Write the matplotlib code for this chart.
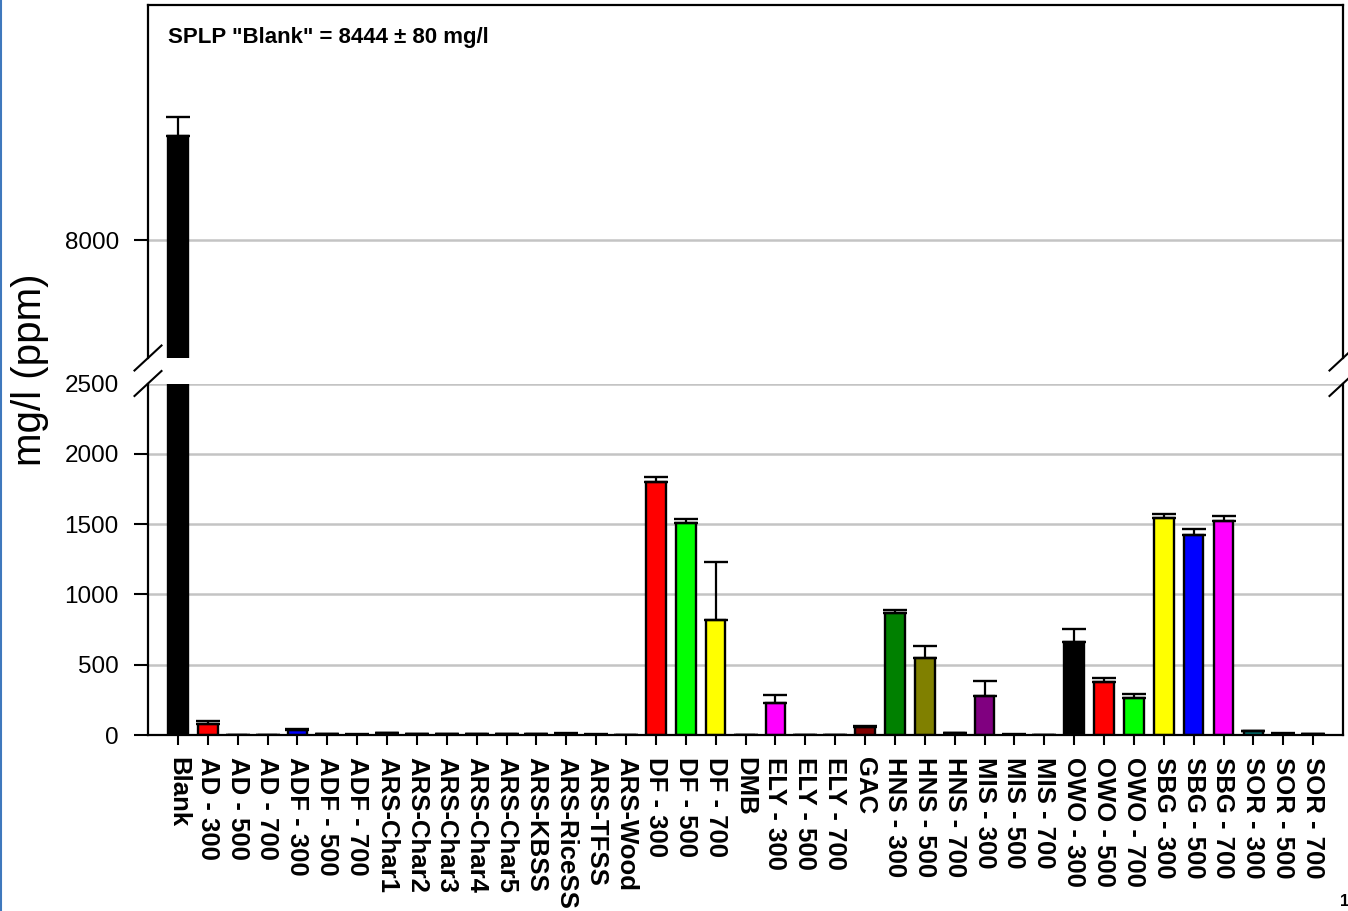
import numpy as np
import matplotlib
matplotlib.use("Agg")
import matplotlib.pyplot as plt
from matplotlib.lines import Line2D

plt.rcParams['font.family'] = ['Liberation Sans', 'DejaVu Sans']

samples = ["Blank", "AD - 300", "AD - 500", "AD - 700", "ADF - 300", "ADF - 500",
           "ADF - 700", "ARS-Char1", "ARS-Char2", "ARS-Char3", "ARS-Char4",
           "ARS-Char5", "ARS-KBSS", "ARS-RiceSS", "ARS-TFSS", "ARS-Wood",
           "DF - 300", "DF - 500", "DF - 700", "DMB", "ELY - 300", "ELY - 500",
           "ELY - 700", "GAC", "HNS - 300", "HNS - 500", "HNS - 700", "MIS - 300",
           "MIS - 500", "MIS - 700", "OWO - 300", "OWO - 500", "OWO - 700",
           "SBG - 300", "SBG - 500", "SBG - 700", "SOR - 300", "SOR - 500", "SOR - 700"]

conc_mean = [8444, 75, 2, 2, 35, 4, 3, 12, 8, 6, 8, 6, 4, 10, 3, 2,
             1800, 1505, 815, 1, 228, 2, 2, 55, 865, 545, 13, 275, 3, 1,
             665, 375, 264, 1545, 1425, 1523, 25, 10, 8]

conc_err = [80, 23, 1, 1, 6, 1, 1, 3, 2, 2, 2, 2, 1, 3, 1, 1,
            37, 30, 412, 1, 55, 1, 1, 8, 25, 85, 2, 112, 1, 1,
            90, 33, 29, 28, 40, 35, 7, 2, 2]

# incrementing colour scheme, repeated every 15 bars
palette = ['#000000', '#ff0000', '#00ff00', '#ffff00', '#0000ff', '#ff00ff',
           '#008080', '#808080', '#800000', '#008000', '#808000', '#000080',
           '#800080', '#008080', '#c0c0c0']
bar_colors = [palette[i % len(palette)] for i in range(len(samples))]

W, H = 1348, 911
fig = plt.figure(figsize=(W / 100, H / 100), dpi=100)


def box(x0, y0, x1, y1):
    return [x0 / W, 1 - y1 / H, (x1 - x0) / W, (y1 - y0) / H]


ax_top = fig.add_axes(box(148, 5, 1343, 358))
ax_bot = fig.add_axes(box(148, 383.5, 1343, 735))

x = np.arange(len(samples))
means = np.array(conc_mean, dtype=float)
errs = np.array(conc_err, dtype=float)

for ax in (ax_top, ax_bot):
    ax.set_axisbelow(True)
    ax.bar(x, means, width=0.66, color=bar_colors, edgecolor='black',
           linewidth=1.7, zorder=2)
    ax.errorbar(x, means, yerr=[np.zeros_like(errs), errs], fmt='none',
                ecolor='black', elinewidth=1.6, capsize=8.5, capthick=1.7,
                zorder=3)
    ax.set_xlim(-1, 39)
    ax.grid(axis='y', color='#c4c4c4', linewidth=1.8)
    for s in ax.spines.values():
        s.set_linewidth(1.6)
    ax.tick_params(axis='y', direction='out', length=10, width=1.5, pad=11,
                   labelsize=17.5)

# upper panel (broken axis)
ax_top.set_ylim(7500, 9000)
ax_top.set_yticks([8000])
ax_top.spines['bottom'].set_visible(False)
ax_top.tick_params(axis='x', bottom=False, labelbottom=False)

# lower panel
ax_bot.set_ylim(0, 2500)
ax_bot.set_yticks([0, 500, 1000, 1500, 2000, 2500])
ax_bot.yaxis.get_major_ticks()[-1].tick1line.set_visible(False)
ax_bot.spines['top'].set_visible(False)
ax_bot.set_xticks(x)
ax_bot.set_xticklabels(samples, rotation=270, fontweight='bold', fontsize=18.5,
                       ha='center', va='top')
ax_bot.tick_params(axis='x', direction='out', length=7.5, width=1.5, pad=8)

# break marks on both vertical spines
for px in (148, 1343):
    for py in (358, 383.5):
        fig.add_artist(Line2D([(px - 13.5) / W, (px + 13.5) / W],
                              [1 - (py + 12.5) / H, 1 - (py - 12.5) / H],
                              color='black', linewidth=1.5,
                              transform=fig.transFigure))

fig.text(30 / W, 1 - 370 / H, "mg/l (ppm)", rotation=90, fontsize=29,
         ha='center', va='center')
fig.text(168 / W, 1 - 43 / H, 'SPLP "Blank" = 8444 \u00b1 80 mg/l',
         fontsize=16, fontweight='bold', ha='left', va='baseline')
fig.text(1340 / W, 1 - 902 / H, "1", fontsize=12, fontweight='bold',
         ha='left', va='center')

# page edge rule on the left
fig.add_artist(Line2D([1 / W, 1 / W], [0, 1], color='#3f78bd', linewidth=1.5,
                      transform=fig.transFigure))

fig.savefig("out.png", dpi=100)
